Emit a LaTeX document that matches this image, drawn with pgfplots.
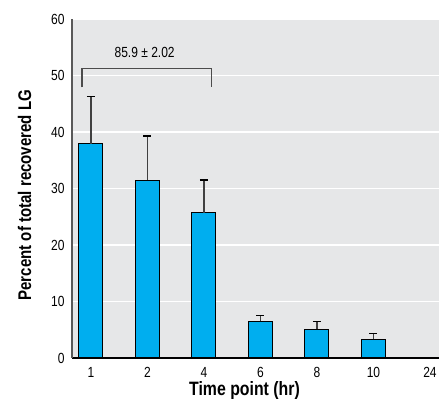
\documentclass[border=0pt]{standalone}
\usepackage{fontspec}
\setmainfont[FakeStretch=0.82]{Liberation Sans}
\usepackage{pgfplots}
\pgfplotsset{compat=1.18}
\definecolor{barblue}{HTML}{00AEEF}
\definecolor{panel}{HTML}{E6E7E8}

\begin{document}
\begin{tikzpicture}
\useasboundingbox (-43.2pt,-28.2pt) rectangle (220.2pt,214.8pt);
\begin{axis}[
    name=ax,
    at={(0,0)}, anchor=south west,
    scale only axis,
    width=220.2pt,
    height=203.4pt,
    xmin=-0.336, xmax=6.16,
    ymin=0, ymax=60,
    ytick={0,10,...,60},
    xtick={0,...,6},
    xticklabels={1,2,4,6,8,10,24},
    axis background/.style={fill=panel},
    axis x line=bottom,
    axis y line=left,
    x axis line style={black, line width=0.9pt, -},
    y axis line style={black!65, line width=1.3pt, -},
    major tick length=0pt,
    ymajorgrids,
    grid style={white, line width=0.8pt},
    tick label style={font=\fontsize{8.8}{10}\selectfont},
    /pgf/number format/assume math mode=true,
    xticklabel style={yshift=-2pt},
    yticklabel style={xshift=-1pt},
    ylabel={\textbf{Percent of total recovered LG}},
    ylabel style={font=\fontsize{11}{13}\selectfont, at={(axis description cs:0,0.5)}, anchor=center, rotate=0, yshift=28.4pt, xshift=-4pt},
    xlabel={\textbf{Time point (hr)}},
    xlabel style={font=\fontsize{11.6}{13}\selectfont, at={(axis description cs:0.5,0)}, anchor=center, yshift=-19.8pt, xshift=-6.6pt},
    clip=false,
]
\addplot[
    ybar, bar width=14.4pt, fill=barblue, draw=black, line width=0.6pt,
    error bars/.cd, y dir=plus, y explicit,
    error bar style={black!75, line width=0.7pt},
    error mark options={black, rotate=90, mark size=2.4pt, line width=0.7pt},
] table[x=x, y=y, y error=e] {
x y e
0 37.9 8.4
1 31.5 7.8
2 25.7 5.8
3 6.5 1.0
4 5.1 1.3
5 3.3 1.1
};
\draw[black!70, line width=0.7pt] (axis cs:-0.16,47.9) |- (axis cs:2.13,51.2) -- (axis cs:2.13,47.9);
\node[font=\fontsize{8.8}{10}\selectfont] at (axis cs:0.95,54.0) {85.9 ± 2.02};
\end{axis}
\end{tikzpicture}
\end{document}
